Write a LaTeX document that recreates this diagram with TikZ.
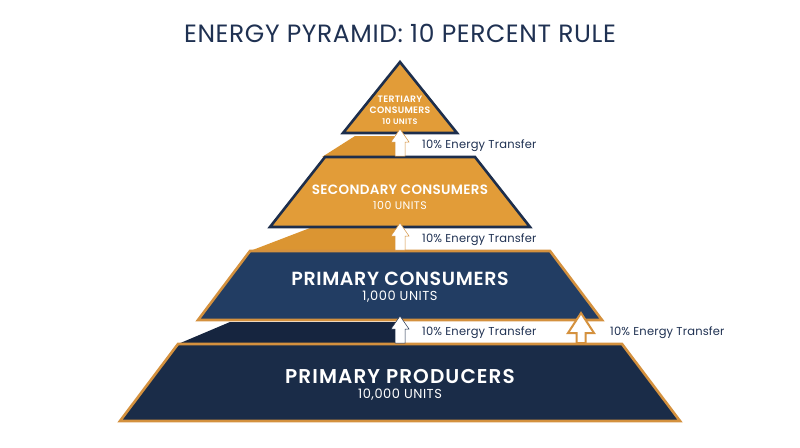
\documentclass[tikz,border=0pt]{standalone}
\usepackage{fontspec}
\setmainfont{Poppins}[BoldFont={Poppins SemiBold}]
\definecolor{orangeA}{HTML}{E29C38}
\definecolor{orangeS}{HTML}{DB9532}
\definecolor{orangeB}{HTML}{D4913E}
\definecolor{navyA}{HTML}{223D63}
\definecolor{navyB}{HTML}{1A2C48}
\definecolor{navyS}{HTML}{16253F}
\definecolor{navyL}{HTML}{1D2E4C}
\definecolor{titleC}{HTML}{1F3152}
\newcommand\lsp[1]{\addfontfeature{LetterSpace=#1}}
\begin{document}
\begin{tikzpicture}[x=1pt,y=-1pt,
  orangelayer/.style={fill=orangeA, draw=navyL, line width=2.6pt, line join=miter},
  navylayer/.style={draw=orangeB, line width=2.6pt, line join=miter},
  lbl/.style={text=white, align=center, inner sep=0pt},
  xfer/.style={text=titleC, font=\fontsize{11.5}{13}\selectfont\lsp{1.5}, anchor=west, inner sep=0pt},
  blockarrow/.pic={\path[pic actions] (-5,0) -- (-5,-14) -- (-9,-14) -- (0,-27) -- (9,-14) -- (5,-14) -- (5,0) -- cycle;},
  bigarrow/.pic={\path[pic actions] (-4.5,0) -- (-4.5,-10) -- (-13,-10) -- (0,-30) -- (13,-10) -- (4.5,-10) -- (4.5,0) -- cycle;}
]
\useasboundingbox (0,0) rectangle (800,447);

% title
\node[text=titleC, font=\fontsize{25}{28}\selectfont\lsp{2.4}, inner sep=0pt] (title) at (400,33) {ENERGY PYRAMID: 10 PERCENT RULE};

% shading bands behind the levels
\fill[orangeS] (355,136) -- (398,136) -- (398,157) -- (322,157) -- cycle;
\fill[orangeS] (310,228) -- (398,228) -- (398,251) -- (250,251) -- cycle;
\fill[navyS] (230,322) -- (398,322) -- (398,344) -- (178,344) -- cycle;

% level 4: primary producers
\draw[navylayer, fill=navyB] (178,344) -- (622,344) -- (680,421) -- (120,421) -- cycle;
% level 3: primary consumers
\draw[navylayer, fill=navyA] (250,251) -- (550,251) -- (602,320) -- (198,320) -- cycle;
% level 2: secondary consumers
\draw[orangelayer] (325,157) -- (475,157) -- (530,227) -- (270,227) -- cycle;
% level 1: tertiary consumers
\draw[orangelayer] (400,62) -- (457,133) -- (343,133) -- cycle;

% labels
\node[lbl, font=\bfseries\fontsize{9.3}{11}\selectfont\lsp{3}] (t1) at (400,105) {TERTIARY\\CONSUMERS};
\node[lbl, font=\bfseries\fontsize{8}{9}\selectfont\lsp{4}] (t1u) at (400,121.5) {10 UNITS};
\node[lbl, font=\bfseries\fontsize{13.5}{15}\selectfont\lsp{2.3}] (t2) at (400,189.5) {SECONDARY CONSUMERS};
\node[lbl, font=\fontsize{11}{13}\selectfont\lsp{4}] (t2u) at (400,205.5) {100 UNITS};
\node[lbl, font=\bfseries\fontsize{19}{22}\selectfont\lsp{3.4}] (t3) at (400,278.5) {PRIMARY CONSUMERS};
\node[lbl, font=\fontsize{13}{15}\selectfont\lsp{4}] (t3u) at (400,297) {1,000 UNITS};
\node[lbl, font=\bfseries\fontsize{20}{23}\selectfont\lsp{5.5}] (t4) at (400,376.5) {PRIMARY PRODUCERS};
\node[lbl, font=\fontsize{13}{15}\selectfont\lsp{4}] (t4u) at (400,395) {10,000 UNITS};

% arrows
\coordinate (a1) at (400,156);
\coordinate (a2) at (400,250);
\coordinate (a3) at (400,343);
\coordinate (a4) at (581,343);
\pic[fill=white, draw=orangeB, line width=0.5pt] at (a1) {blockarrow};
\pic[fill=white, draw=orangeB, line width=0.5pt] at (a2) {blockarrow};
\pic[fill=white, draw=navyL, line width=0.5pt] at (a3) {blockarrow};
\pic[fill=white, draw=orangeB, line width=2pt, line join=miter] at (a4) {bigarrow};

% transfer labels
\node[xfer] (x1) at (422,146) {10\% Energy Transfer};
\node[xfer] (x2) at (422,240) {10\% Energy Transfer};
\node[xfer] (x3) at (422,333) {10\% Energy Transfer};
\node[xfer] (x4) at (610,333) {10\% Energy Transfer};
\end{tikzpicture}
\end{document}
